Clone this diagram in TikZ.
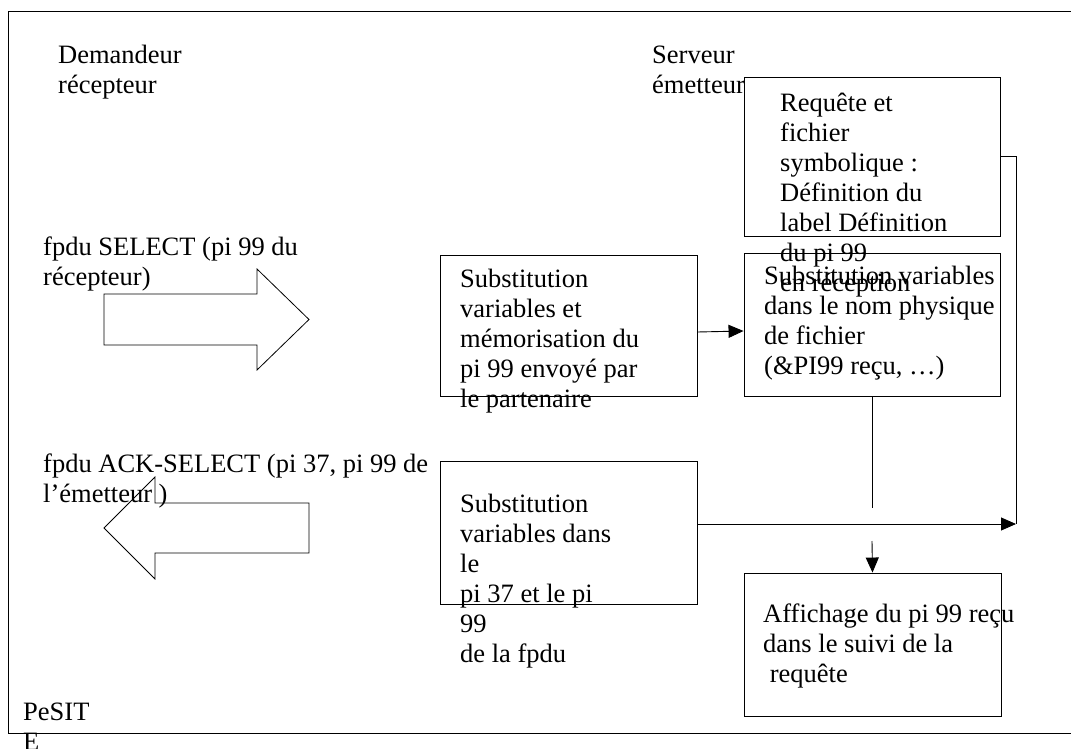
\documentclass[tikz,border=0pt]{standalone}
\usepackage{fontspec}
\setmainfont{Liberation Serif}
\usetikzlibrary{arrows.meta}
\newcommand\mlines[1]{\begin{tabular}[t]{@{}l@{}}#1\end{tabular}}
\begin{document}
\begin{tikzpicture}[x=1pt,y=-1pt,
  box/.style={draw, line width=0.9pt, inner sep=0pt},
  txt/.style={anchor=base west, inner sep=0pt, font=\fontsize{26.5}{30}\selectfont},
  conn/.style={line width=0.9pt},
  arr/.style={line width=0.9pt, -{Triangle[length=15pt,width=13pt]}},
  blockarrow/.style={draw, line width=0.8pt, line join=miter}]
\useasboundingbox (0,0) rectangle (1071,749);
% frame
\draw[line width=1pt] (8,12) rectangle (1074,733);
% boxes
\node[box, minimum width=256pt, minimum height=159pt] (box1) at (872,156.5) {};
\node[box, minimum width=256pt, minimum height=143pt] (box2) at (872,324.5) {};
\node[box, minimum width=257pt, minimum height=141pt] (boxA) at (568.5,325.5) {};
\node[box, minimum width=257pt, minimum height=143pt] (box3) at (568.5,532.5) {};
\node[box, minimum width=257pt, minimum height=143pt] (box4) at (872.5,644.5) {};
% block arrows
\draw[blockarrow] (104,294) -- (257,294) -- (257,269) -- (309,319.5) -- (257,370) -- (257,345) -- (104,345) -- cycle;
\draw[blockarrow] (309,503) -- (155,503) -- (155,477) -- (104,528) -- (155,579) -- (155,553) -- (309,553) -- cycle;
% texts
\node[txt] (tDem) at (58,64) {\mlines{Demandeur\\récepteur}};
\node[txt] (tSrv) at (652,64) {\mlines{Serveur\\émetteur}};
\node[txt] (t1) at (780,112) {\mlines{Requête et\\fichier\\symbolique :\\Définition du\\label Définition\\du pi 99\\en réception}};
\node[txt] (t2) at (764,284) {\mlines{Substitution variables\\dans le nom physique\\de fichier\\(\&PI99 reçu, …)}};
\node[txt] (tA) at (460,287) {\mlines{Substitution\\variables et\\mémorisation du\\pi 99 envoyé par\\le partenaire}};
\node[txt] (t3) at (460,512) {\mlines{Substitution\\variables dans\\le\\pi 37 et le pi\\99\\de la fpdu}};
\node[txt] (t4) at (763,622) {\mlines{Affichage du pi 99 reçu\\dans le suivi de la\\\hspace{6.6pt}requête}};
\node[txt] (tSel) at (43,255) {\mlines{fpdu SELECT (pi 99 du\\récepteur)}};
\node[txt] (tAck) at (43,472) {\mlines{fpdu ACK-SELECT (pi 37, pi 99 de\\l’émetteur )}};
\node[txt] (tPe) at (23,720) {\mlines{PeSIT\\E}};
% connectors
\coordinate (v1) at (872,508);
\coordinate (h1) at (1016,524);
\coordinate (d1) at (872,541);
\draw[arr] ([yshift=-6.5pt]boxA.east) -- ([yshift=-6.5pt]box2.west);
\draw[conn] (box2.south) -- (v1);
\draw[conn] (box1.east) -| (h1);
\draw[arr] ([yshift=8.5pt]box3.east) -- (h1);
\draw[arr] (d1) -- (box4.north);
\end{tikzpicture}
\end{document}
